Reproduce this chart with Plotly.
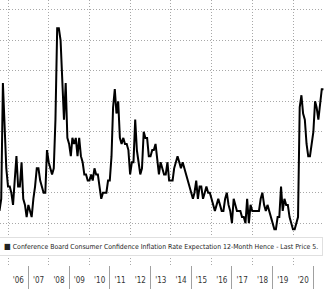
import calendar
import plotly.graph_objects as go

# Conference Board Consumer Confidence Inflation Rate Expectation 12-Month Hence (%), monthly
start_year, start_month = 2005, 7
values = [
    4.7, 4.9, 6.8, 6.1, 5.4, 5.1,                      # 2005 Jul-Dec
    5.1, 5.0, 4.8, 5.2, 5.6, 5.1, 5.1, 5.5, 4.9, 4.8, 4.6, 4.8,   # 2006
    4.7, 4.6, 4.9, 5.1, 5.4, 5.4, 5.2, 5.1, 5.0, 5.0, 5.7, 5.5,   # 2007
    5.4, 5.3, 5.4, 6.2, 7.7, 7.7, 7.5, 6.8, 6.2, 6.8, 5.9, 5.8,   # 2008
    5.6, 5.9, 5.8, 5.9, 5.6, 5.9, 5.6, 5.5, 5.3, 5.3, 5.2, 5.2,   # 2009
    5.3, 5.2, 5.4, 5.3, 5.3, 5.1, 4.9, 5.0, 5.0, 5.0, 5.2, 5.2,   # 2010
    5.6, 6.4, 6.7, 6.3, 6.5, 5.9, 5.8, 5.9, 5.8, 5.8, 5.7, 5.3,   # 2011
    5.5, 5.5, 6.2, 5.7, 5.5, 5.3, 5.4, 6.0, 5.9, 5.9, 5.6, 5.6,   # 2012
    5.7, 5.7, 5.8, 5.5, 5.3, 5.5, 5.4, 5.3, 5.3, 5.5, 5.2, 5.2,   # 2013
    5.2, 5.4, 5.5, 5.6, 5.5, 5.4, 5.5, 5.4, 5.3, 5.2, 5.1, 5.0,   # 2014
    4.9, 5.0, 5.2, 4.9, 5.1, 5.1, 4.9, 5.0, 5.1, 5.0, 5.0, 4.9,   # 2015
    4.8, 4.7, 4.8, 4.9, 4.8, 4.7, 4.7, 4.9, 5.0, 4.8, 4.7, 4.5,   # 2016
    4.9, 4.8, 4.7, 4.7, 4.7, 4.6, 4.6, 4.5, 4.9, 4.5, 4.8, 4.7,   # 2017
    4.7, 4.7, 4.7, 4.7, 4.9, 5.0, 4.8, 4.7, 4.8, 4.7, 4.6, 4.5,   # 2018
    4.4, 4.4, 4.6, 4.6, 5.1, 4.7, 4.9, 4.8, 4.8, 4.6, 4.5, 4.4,   # 2019
    4.4, 4.5, 4.6, 6.4, 6.6, 6.3, 6.2, 5.8, 5.6, 5.6, 5.8, 6.0,   # 2020
    6.5, 6.4, 6.2, 6.5, 6.7, 6.7,                                # 2021 Jan-Jun
]

series_name = ("Conference Board Consumer Confidence Inflation Rate Expectation "
               "12-Month Hence - Last Price 5.")

x_start, x_end = "2005-08-09", "2021-07-10"
y_min, y_max = 3.813, 8.164

# month-end dates
dates = []
y, m = start_year, start_month
for _ in values:
    d = calendar.monthrange(y, m)[1]
    dates.append(f"{y:04d}-{m:02d}-{d:02d}")
    m += 1
    if m > 12:
        m, y = 1, y + 1

FONT = "Liberation Sans Narrow, DejaVu Sans Condensed, Arial Narrow, Liberation Sans, sans-serif"
GRID = "#a8a8a8"
DOTS = "1px,2px"

fig = go.Figure()
fig.add_trace(go.Scatter(x=dates, y=values, mode="lines", name=series_name,
                         line=dict(color="#000000", width=2), showlegend=False))
# helper trace so the label axis is drawn
fig.add_trace(go.Scatter(x=dates, y=values, mode="lines", xaxis="x2",
                         line=dict(width=0), opacity=0, showlegend=False, hoverinfo="skip"))

fig.update_layout(
    width=324, height=289,
    margin=dict(l=0, r=0, t=0, b=24),
    paper_bgcolor="white", plot_bgcolor="white",
    font=dict(family=FONT, size=8, color="#333333"),
    xaxis=dict(range=[x_start, x_end], type="date", dtick="M24", tick0="2006-01-01",
               ticks="", showticklabels=False, showgrid=True, gridcolor=GRID,
               griddash=DOTS, gridwidth=1, zeroline=False, showline=False,
               minor=dict(dtick="M12", tick0="2006-01-01", ticks="outside", ticklen=24,
                          tickcolor="#a0a0a0", tickwidth=1, showgrid=False)),
    xaxis2=dict(overlaying="x", matches="x", anchor="y", type="date",
                dtick="M12", tick0="2005-01-01", ticklabelmode="period",
                tickformat="'%y", ticks="", showgrid=False, zeroline=False, side="bottom",
                tickfont=dict(family=FONT, size=8, color="#333333"), ticklabelstandoff=9),
    yaxis=dict(range=[y_min, y_max], dtick=0.5, tick0=0, showgrid=True, gridcolor=GRID,
               griddash=DOTS, gridwidth=1, showticklabels=False, zeroline=False, ticks=""),
    annotations=[dict(
        xref="paper", yref="paper", x=-0.003, y=(265 - 246) / 265, xanchor="left", yanchor="middle",
        text="<span style='font-size:8px'>■</span> " + series_name, showarrow=False,
        align="left", bgcolor="white", bordercolor="#e0e0e0", borderwidth=1, borderpad=4,
        font=dict(family=FONT, size=6.9, color="#222222"))],
)

fig.write_html("out.html")
